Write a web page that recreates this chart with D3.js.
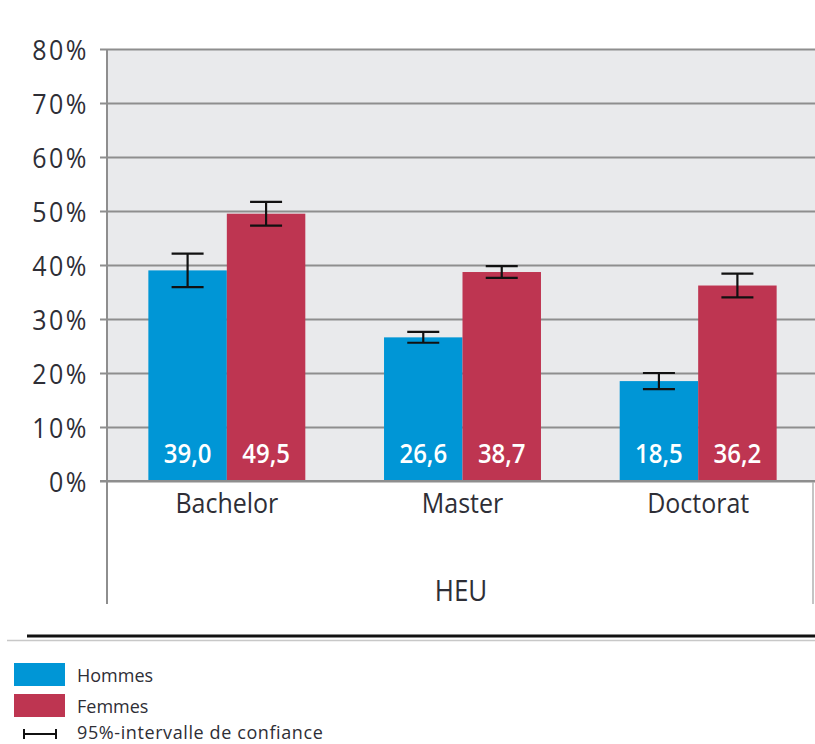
<!DOCTYPE html>
<html><head><meta charset="utf-8">
<script src="https://cdn.jsdelivr.net/npm/d3@7"></script>
<style>body{margin:0;background:#fff}svg{display:block}text{font-family:"Open Sans",sans-serif}</style>
</head><body>
<script>
const categories = ["Bachelor", "Master", "Doctorat"];
const seriesNames = ["Hommes", "Femmes"];
const hommes = [39.0, 26.6, 18.5];
const femmes = [49.5, 38.7, 36.2];
const hommesLow = [35.9, 25.6, 17.0];
const hommesHigh = [42.1, 27.6, 20.0];
const femmesLow = [47.3, 37.6, 34.0];
const femmesHigh = [51.7, 39.8, 38.4];
const yTicks = [0, 10, 20, 30, 40, 50, 60, 70, 80];
const groupLabel = "HEU";
const ciLabel = "95%-intervalle de confiance";

const W = 815, H = 744;
const colors = {Hommes: "#0096d6", Femmes: "#be3551"};
const svg = d3.select("body").append("svg").attr("width", W).attr("height", H);

const plotL = 107, plotR = 815, plotT = 49, plotB = 481;
const y = d3.scaleLinear().domain([0, 80]).range([plotB, plotT]);
const x0 = d3.scaleBand().domain(categories).range([109, 816]).paddingInner(0.334).paddingOuter(0.167);
const x1 = d3.scaleBand().domain(seriesNames).range([0, x0.bandwidth()]);
const SY = 1.12;
const txt = "#2e2e36";

// background
svg.append("rect").attr("x", plotL).attr("y", plotT).attr("width", plotR - plotL).attr("height", plotB - plotT).attr("fill", "#e9eaec");

// grid
const ga = svg.append("g").attr("transform", `translate(${plotR},0)`);
ga.call(d3.axisRight(y).tickValues(yTicks).tickSize(-(plotR - plotL + 7)).tickFormat(""));
ga.select(".domain").remove();
ga.selectAll(".tick line").attr("stroke", "#8e8e8e").attr("stroke-width", 2);

// y axis labels
const gl = svg.append("g").attr("transform", `translate(${plotL - 7},0)`);
gl.call(d3.axisLeft(y).tickValues(yTicks).tickSize(0).tickPadding(11).tickFormat(d => d + "%"));
gl.select(".domain").remove();
gl.selectAll(".tick text").attr("font-size", 25).attr("font-weight", 500).attr("fill", txt).attr("letter-spacing", 2.5)
  .attr("dy", null).attr("y", 0)
  .attr("transform", `scale(1,${SY})`).attr("dominant-baseline", "central");

// vertical lines
svg.append("line").attr("x1", plotL).attr("x2", plotL).attr("y1", plotT).attr("y2", 604).attr("stroke", "#8e8e8e").attr("stroke-width", 2);
svg.append("line").attr("x1", 813).attr("x2", 813).attr("y1", plotB).attr("y2", 604).attr("stroke", "#b0b0b0").attr("stroke-width", 1.5);

// bars
const data = categories.map((c, i) => ({
  cat: c,
  vals: [
    {s: "Hommes", v: hommes[i], lo: hommesLow[i], hi: hommesHigh[i]},
    {s: "Femmes", v: femmes[i], lo: femmesLow[i], hi: femmesHigh[i]}
  ]
}));
const gg = svg.selectAll(".grp").data(data).enter().append("g").attr("transform", d => `translate(${x0(d.cat)},0)`);
gg.selectAll("rect").data(d => d.vals).enter().append("rect")
  .attr("x", d => x1(d.s)).attr("width", x1.bandwidth())
  .attr("y", d => y(d.v)).attr("height", d => y(0) - y(d.v))
  .attr("fill", d => colors[d.s]);
gg.selectAll(".val").data(d => d.vals).enter().append("text")
  .attr("transform", d => `translate(${x1(d.s) + x1.bandwidth() / 2},463) scale(1,${SY})`)
  .attr("text-anchor", "middle").attr("font-size", 24).attr("font-weight", 600).attr("fill", "#fff")
  .text(d => d.v.toFixed(1).replace(".", ","));
// error bars
const eb = gg.selectAll(".eb").data(d => d.vals).enter().append("g").attr("stroke", "#111").attr("stroke-width", 2.2);
const cx = d => x1(d.s) + x1.bandwidth() / 2;
eb.append("line").attr("x1", cx).attr("x2", cx).attr("y1", d => y(d.hi)).attr("y2", d => y(d.lo));
eb.append("line").attr("x1", d => cx(d) - 16).attr("x2", d => cx(d) + 16).attr("y1", d => y(d.hi)).attr("y2", d => y(d.hi));
eb.append("line").attr("x1", d => cx(d) - 16).attr("x2", d => cx(d) + 16).attr("y1", d => y(d.lo)).attr("y2", d => y(d.lo));

// zero line
svg.append("line").attr("x1", plotL - 7).attr("x2", plotR).attr("y1", y(0)).attr("y2", y(0)).attr("stroke", "#8e8e8e").attr("stroke-width", 2);

// category labels
svg.selectAll(".cat").data(categories).enter().append("text")
  .attr("transform", d => `translate(${x0(d) + x0.bandwidth() / 2},513) scale(1,${SY})`)
  .attr("text-anchor", "middle").attr("font-size", 25).attr("font-weight", 500).attr("fill", txt).text(d => d);
svg.append("text").attr("transform", `translate(461,601) scale(1,${SY})`).attr("text-anchor", "middle")
  .attr("font-size", 26).attr("font-weight", 500).attr("fill", txt).text(groupLabel);

// separator lines
svg.append("line").attr("x1", 27).attr("x2", W).attr("y1", 636).attr("y2", 636).attr("stroke", "#111").attr("stroke-width", 3);
svg.append("line").attr("x1", 7).attr("x2", W).attr("y1", 640.5).attr("y2", 640.5).attr("stroke", "#c8c8c8").attr("stroke-width", 1.5);

// legend
const lg = svg.append("g");
seriesNames.forEach((s, i) => {
  lg.append("rect").attr("x", 14).attr("y", 663 + i * 31).attr("width", 51).attr("height", 23).attr("fill", colors[s]);
  lg.append("text").attr("x", 77).attr("y", 682 + i * 31).attr("font-size", 18).attr("fill", txt).text(s);
});
const ly = 734;
lg.append("line").attr("x1", 24).attr("x2", 56).attr("y1", ly).attr("y2", ly).attr("stroke", "#111").attr("stroke-width", 2);
lg.append("line").attr("x1", 24).attr("x2", 24).attr("y1", ly - 5).attr("y2", ly + 5).attr("stroke", "#111").attr("stroke-width", 2);
lg.append("line").attr("x1", 56).attr("x2", 56).attr("y1", ly - 5).attr("y2", ly + 5).attr("stroke", "#111").attr("stroke-width", 2);
lg.append("text").attr("x", 77).attr("y", 739).attr("font-size", 18).attr("letter-spacing", 0.6).attr("fill", txt).text(ciLabel);
</script>
</body></html>
